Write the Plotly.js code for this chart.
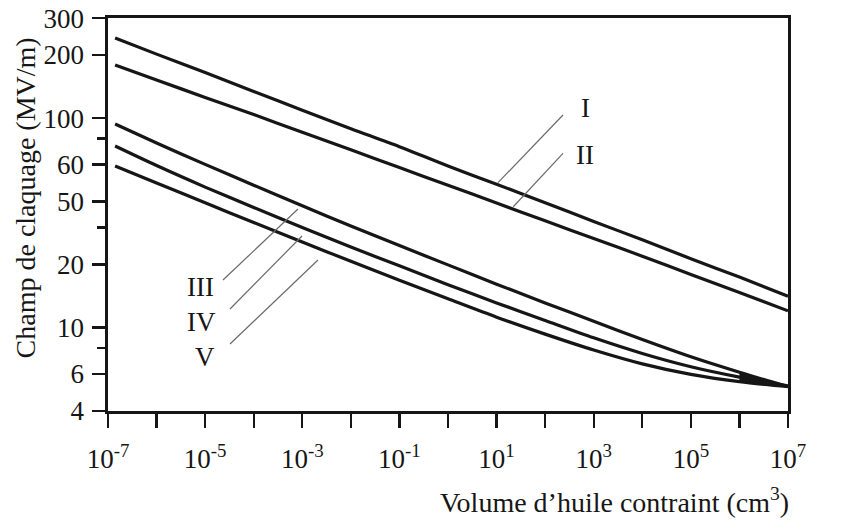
<!DOCTYPE html>
<html>
<head>
<meta charset="utf-8">
<script src="https://cdn.plot.ly/plotly-3.0.1.min.js"></script>
<style>
  html, body { margin: 0; padding: 0; background: #ffffff; }
  #chart { width: 843px; height: 521px; }
</style>
</head>
<body>
<div id="chart"></div>
<script>
// ---- Data (log-log) ----
const volume = [1.4e-7, 1e-6, 1e-5, 1e-4, 1e-3, 1e-2, 1e-1, 1, 1e1, 1e2, 1e3, 1e4, 1e5, 1e6, 1e7];
const champI   = [241, 202, 165, 134, 109, 89, 73, 59, 48.3, 39.4, 32.1, 26.2, 21.3, 17.4, 14.1];
const champII  = [179, 152, 125.5, 104, 85.5, 70.5, 58, 47.8, 39.3, 32.3, 26.6, 21.9, 17.9, 14.7, 12.0];
const champIII = [93.6, 76.0, 60.1, 47.8, 38.1, 30.5, 24.6, 19.9, 16.1, 13.1, 10.7, 8.75, 7.24, 6.11, 5.22];
const champIV  = [73.5, 59.3, 46.8, 37.4, 30.0, 24.2, 19.7, 16.0, 13.1, 10.8, 8.92, 7.51, 6.49, 5.79, 5.26];
const champV   = [59.0, 49.0, 39.4, 31.7, 25.6, 20.7, 16.8, 13.7, 11.2, 9.29, 7.80, 6.70, 5.97, 5.51, 5.21];
const curveLabels = ['I', 'II', 'III', 'IV', 'V'];

const xTickVals = [1e-7, 1e-5, 1e-3, 1e-1, 1e1, 1e3, 1e5, 1e7];
const xTickText = ['10<sup>-7</sup>', '10<sup>-5</sup>', '10<sup>-3</sup>', '10<sup>-1</sup>',
                   '10<sup>1</sup>', '10<sup>3</sup>', '10<sup>5</sup>', '10<sup>7</sup>'];
const xMinorVals = [1e-6, 1e-4, 1e-2, 1, 1e2, 1e4, 1e6];
const yTickVals = [4, 6, 10, 20, 40, 60, 100, 200, 300];
const yTickText = ['4', '6', '10', '20', '50', '60', '100', '200', '300'];
const yMinorVals = [8, 30, 80];

const INK = '#161616';
const FONT = 'Liberation Serif, Times New Roman, serif';

const series = [champI, champII, champIII, champIV, champV];
const traces = series.map((ys, i) => ({
  x: volume, y: ys, type: 'scatter', mode: 'lines', name: curveLabels[i],
  line: { color: INK, width: 3.2, shape: 'spline', smoothing: 0.8 },
  hoverinfo: 'skip'
}));

// dark merge wedge where curves III-V run together (from the last two points)
const k = volume.length - 2;
const wedgeX = volume.slice(k).concat(volume.slice(k).reverse());
const wedgeY = champIII.slice(k).concat(champV.slice(k).reverse());
traces.push({
  x: wedgeX, y: wedgeY, type: 'scatter', mode: 'lines', fill: 'toself',
  fillcolor: INK, line: { color: INK, width: 1 }, hoverinfo: 'skip'
});

// leader lines (paper coords) and labels
const leaders = [
  [0.6691, 0.7532, 0.5735, 0.5809],
  [0.6691, 0.6557, 0.5960, 0.5198],
  [0.1691, 0.3333, 0.2794, 0.5140],
  [0.1794, 0.2595, 0.2853, 0.4453],
  [0.1794, 0.1705, 0.3088, 0.3842]
];
const labelPos = [[0.7029, 0.7710], [0.7015, 0.6514], [0.1353, 0.3155], [0.1382, 0.2265], [0.1426, 0.1374]];

const shapes = leaders.map(l => ({
  type: 'line', xref: 'paper', yref: 'paper', x0: l[0], y0: l[1], x1: l[2], y1: l[3],
  line: { color: '#6a6a6a', width: 1.2 }
}));

const annotations = curveLabels.map((t, i) => ({
  text: t, xref: 'paper', yref: 'paper', x: labelPos[i][0], y: labelPos[i][1],
  showarrow: false, xanchor: 'center', yanchor: 'middle',
  font: { family: FONT, size: 27, color: INK }
}));
annotations.push({
  text: 'Volume d’huile contraint (cm<sup>3</sup>)', xref: 'paper', yref: 'paper',
  x: 1.004, y: -0.228, xanchor: 'right', yanchor: 'middle', showarrow: false,
  font: { family: FONT, size: 28, color: INK }
});
annotations.push({
  text: 'Champ de claquage (MV/m)', xref: 'paper', yref: 'paper',
  x: -0.122, y: 0.541, xanchor: 'center', yanchor: 'middle', textangle: -90, showarrow: false,
  font: { family: FONT, size: 28, color: INK }
});

const layout = {
  width: 843, height: 521,
  margin: { l: 108, r: 55, t: 18, b: 110 },
  paper_bgcolor: '#ffffff', plot_bgcolor: '#ffffff',
  showlegend: false,
  font: { family: FONT, size: 27, color: INK },
  xaxis: {
    type: 'log', range: [-7, 7], tickmode: 'array', tickvals: xTickVals, ticktext: xTickText,
    ticks: 'outside', ticklen: 14, tickwidth: 2.4, tickcolor: INK,
    minor: { tickmode: 'array', tickvals: xMinorVals, ticks: 'outside', ticklen: 14, tickwidth: 2.4, tickcolor: INK, showgrid: false },
    ticklabelstandoff: 8,
    showline: true, linecolor: INK, linewidth: 2.6, mirror: true,
    showgrid: false, zeroline: false,
    tickfont: { family: FONT, size: 27, color: INK }
  },
  yaxis: {
    type: 'log', range: [Math.log10(3.99), Math.log10(300.5)], tickmode: 'array',
    tickvals: yTickVals, ticktext: yTickText,
    ticks: 'outside', ticklen: 13, tickwidth: 2.4, tickcolor: INK,
    minor: { tickmode: 'array', tickvals: yMinorVals, ticks: 'outside', ticklen: 8, tickwidth: 2.4, tickcolor: INK, showgrid: false },
    ticklabelstandoff: 3,
    showline: true, linecolor: INK, linewidth: 2.6, mirror: true,
    showgrid: false, zeroline: false,
    tickfont: { family: FONT, size: 27, color: INK }
  },
  shapes: shapes,
  annotations: annotations
};

Plotly.newPlot('chart', traces, layout, { staticPlot: true, displayModeBar: false });
</script>
</body>
</html>
